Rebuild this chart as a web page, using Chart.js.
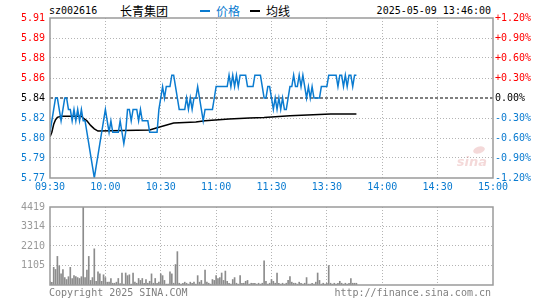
<!DOCTYPE html>
<html>
<head>
<meta charset="utf-8">
<script src="https://cdn.jsdelivr.net/npm/chart.js@4.4.1/dist/chart.umd.min.js"></script>
<style>
body { margin:0; background:#fff; width:545px; height:300px; overflow:hidden; position:relative; font-family:'DejaVu Sans Mono', monospace; }
.t { position:absolute; font-size:10px; line-height:12px; white-space:nowrap; color:#000; }
.cjk { font-family:'Noto Sans CJK SC', sans-serif; font-size:12px; line-height:14px; }
.gray { color:#808080; }
#c1 { position:absolute; left:0; top:0; }
#c2 { position:absolute; left:0; top:196px; }
</style>
</head>
<body>
<div class="t" style="left:49px;top:5px">sz002616</div>
<div class="t cjk" style="left:120px;top:4px">长青集团</div>
<div style="position:absolute;left:200px;top:10px;width:10px;height:2px;background:#0a7bd0"></div>
<div class="t cjk" style="left:216px;top:4px;color:#0a7bd0">价格</div>
<div style="position:absolute;left:250px;top:10px;width:10px;height:2px;background:#000"></div>
<div class="t cjk" style="left:266px;top:4px">均线</div>
<div class="t" style="right:54px;top:5px">2025-05-09 13:46:00</div>

<canvas id="c1" width="545" height="196"></canvas>
<canvas id="c2" width="545" height="104"></canvas>

<div class="t gray" style="left:49px;top:287px">Copyright 2025 SINA.COM</div>
<div class="t gray" style="right:54px;top:287px">http://finance.sina.com.cn</div>

<script>
const prevClose = 5.84;
const timeLabels = ['09:30', '10:00', '10:30', '11:00', '11:30', '13:30', '14:00', '14:30', '15:00'];
const timeTicks = [0, 30, 60, 90, 120, 150, 180, 210, 240];
// bottom to top
const pctSteps = [-1.2, -0.9, -0.6, -0.3, 0, 0.3, 0.6, 0.9, 1.2];
const priceLabels = ['5.77', '5.79', '5.80', '5.82', '5.84', '5.86', '5.88', '5.89', '5.91'];
const pctLabels = ['-1.20%', '-0.90%', '-0.60%', '-0.30%', '0.00%', '+0.30%', '+0.60%', '+0.90%', '+1.20%'];

// one price per minute from 09:30
const prices = [
	5.81, 5.82, 5.83, 5.84, 5.84, 5.83, 5.82, 5.83, 5.84, 5.84,
	5.83, 5.83, 5.82, 5.83, 5.82, 5.83, 5.82, 5.83, 5.82, 5.82,
	5.81, 5.80, 5.79, 5.78, 5.77, 5.78, 5.79, 5.80, 5.81, 5.82,
	5.83, 5.82, 5.81, 5.82, 5.81, 5.81, 5.81, 5.81, 5.82, 5.81,
	5.80, 5.81, 5.83, 5.83, 5.82, 5.83, 5.83, 5.83, 5.82, 5.83,
	5.82, 5.82, 5.82, 5.82, 5.81, 5.81, 5.81, 5.81, 5.81, 5.83,
	5.84, 5.85, 5.84, 5.85, 5.85, 5.85, 5.86, 5.86, 5.85, 5.84,
	5.83, 5.83, 5.83, 5.83, 5.84, 5.83, 5.84, 5.83, 5.84, 5.84,
	5.85, 5.84, 5.83, 5.82, 5.83, 5.83, 5.83, 5.83, 5.83, 5.84,
	5.85, 5.85, 5.85, 5.85, 5.85, 5.85, 5.85, 5.86, 5.85, 5.86,
	5.85, 5.86, 5.85, 5.86, 5.86, 5.86, 5.86, 5.85, 5.85, 5.85,
	5.85, 5.86, 5.86, 5.86, 5.86, 5.85, 5.84, 5.84, 5.85, 5.85,
	5.84, 5.83, 5.84, 5.83, 5.84, 5.83, 5.84, 5.83, 5.83, 5.84,
	5.85, 5.85, 5.86, 5.85, 5.85, 5.86, 5.85, 5.86, 5.85, 5.84,
	5.85, 5.84, 5.85, 5.84, 5.84, 5.84, 5.84, 5.85, 5.85, 5.85,
	5.85, 5.86, 5.86, 5.86, 5.86, 5.86, 5.85, 5.86, 5.86, 5.85,
	5.86, 5.85, 5.86, 5.86, 5.85, 5.86, 5.86
];

// average price line, read at these minutes
const avgMinutes = [0, 1, 2, 3, 4, 6, 17, 18, 20, 22, 24, 26, 54, 58, 67, 79, 84, 97, 108, 116, 130, 152, 166];
const avgPrices = [5.806, 5.810, 5.817, 5.821, 5.823, 5.824, 5.824, 5.8225, 5.820, 5.816, 5.813, 5.811,
	5.812, 5.814, 5.818, 5.819, 5.820, 5.8215, 5.8225, 5.823, 5.8245, 5.826, 5.826];

const volTicks = [1105, 2210, 3314, 4419];
const volLabels = ['1105', '2210', '3314', '4419'];
const volumes = [
	200, 150, 1000, 880, 1620, 1090, 630, 880, 420, 310,
	470, 1000, 370, 530, 470, 420, 370, 470, 4419, 420,
	840, 1620, 260, 420, 2050, 210, 740, 630, 210, 580,
	420, 160, 160, 370, 100, 100, 160, 370, 80, 680,
	50, 680, 530, 580, 50, 680, 160, 100, 370, 260,
	370, 100, 310, 100, 210, 630, 100, 370, 100, 160,
	630, 530, 260, 50, 50, 740, 630, 100, 1160, 1890,
	100, 50, 100, 160, 100, 50, 160, 100, 160, 50,
	530, 160, 260, 50, 840, 160, 100, 50, 310, 260,
	530, 370, 420, 680, 260, 790, 210, 100, 50, 310,
	420, 100, 50, 530, 100, 100, 210, 260, 50, 100,
	100, 100, 50, 100, 50, 100, 1370, 210, 50, 100,
	310, 210, 100, 680, 100, 50, 100, 50, 100, 260,
	470, 160, 100, 100, 50, 160, 100, 50, 100, 420,
	50, 50, 100, 50, 160, 680, 260, 50, 100, 50,
	100, 1100, 100, 50, 100, 50, 100, 210, 100, 50,
	100, 50, 100, 370, 100, 100, 100
];

const BLUE = '#0a7bd0';
const GRID = '#b4b4b4';
const font = { family: 'DejaVu Sans Mono', size: 10 };
const lo = prevClose * (1 + pctSteps[0] / 100);
const hi = prevClose * (1 + pctSteps[pctSteps.length - 1] / 100);

function levelColor(i) {
	if (i < 4) return BLUE;
	if (i > 4) return '#ff0000';
	return '#000';
}

// gray frame round the plot area, plus the faint logo
const framePlugin = {
	id: 'frame',
	beforeDatasetsDraw(chart, args, opts) {
		if (!opts.logo) return;
		const a = chart.chartArea;
		const ctx = chart.ctx;
		ctx.save();
		ctx.fillStyle = 'rgba(214,120,120,0.28)';
		ctx.font = 'italic bold 13px "DejaVu Sans"';
		ctx.textAlign = 'right';
		ctx.fillText('sina', a.right - 6, a.bottom - 12);
		ctx.beginPath();
		ctx.ellipse(a.right - 14, a.bottom - 28, 6, 3.5, -0.3, 0, Math.PI * 2);
		ctx.fill();
		ctx.restore();
	},
	afterDraw(chart) {
		const a = chart.chartArea;
		const ctx = chart.ctx;
		ctx.save();
		ctx.strokeStyle = '#9a9a9a';
		ctx.lineWidth = 1.5;
		ctx.strokeRect(Math.round(a.left), Math.round(a.top), Math.round(a.right - a.left), Math.round(a.bottom - a.top));
		ctx.restore();
	}
};

const xTicks = (s) => { s.ticks = timeTicks.map(v => ({ value: v })); };
const edgeless = (ctx) => (ctx.index === 0 || ctx.index === timeTicks.length - 1) ? 'rgba(0,0,0,0)' : GRID;

new Chart(document.getElementById('c1'), {
	type: 'line',
	data: {
		datasets: [
			{
				data: prices.map((p, i) => ({ x: i, y: p })),
				borderColor: BLUE, borderWidth: 1.5, pointRadius: 0, tension: 0
			},
			{
				data: avgMinutes.map((m, i) => ({ x: m, y: avgPrices[i] })),
				borderColor: '#000', borderWidth: 1.5, pointRadius: 0, tension: 0
			},
			{
				data: [{ x: timeTicks[0], y: prevClose }, { x: timeTicks[timeTicks.length - 1], y: prevClose }],
				borderColor: '#000', borderWidth: 1.2, borderDash: [3, 2], pointRadius: 0
			}
		]
	},
	options: {
		responsive: false,
		animation: false,
		events: [],
		layout: { padding: { top: 18, left: 0, right: 0, bottom: 0 } },
		plugins: { legend: { display: false }, tooltip: { enabled: false }, frame: { logo: true } },
		scales: {
			x: {
				type: 'linear', min: 0, max: 240,
				afterBuildTicks: xTicks,
				afterFit(s) { s.height = 18; },
				ticks: { callback: (v, i) => timeLabels[i], color: BLUE, font: font, padding: 3, maxRotation: 0, autoSkip: false },
				grid: { color: edgeless, drawTicks: false, lineWidth: 1 },
				border: { display: false, dash: [1, 2] }
			},
			y: {
				position: 'left', min: lo, max: hi,
				afterBuildTicks(s) { s.ticks = pctSteps.map(p => ({ value: prevClose * (1 + p / 100) })); },
				afterFit(s) { s.width = 50; },
				ticks: { callback: (v, i) => priceLabels[i], color: (ctx) => levelColor(ctx.index), font: font, padding: 5, autoSkip: false },
				grid: { color: (ctx) => (ctx.index === 0 || ctx.index === 4 || ctx.index === 8) ? 'rgba(0,0,0,0)' : GRID, drawTicks: false, lineWidth: 1 },
				border: { display: false, dash: [1, 2] }
			},
			y2: {
				position: 'right', min: lo, max: hi,
				afterBuildTicks(s) { s.ticks = pctSteps.map(p => ({ value: prevClose * (1 + p / 100) })); },
				afterFit(s) { s.width = 52; },
				ticks: { callback: (v, i) => pctLabels[i], color: (ctx) => levelColor(ctx.index), font: font, padding: 2, autoSkip: false },
				grid: { display: false, drawTicks: false },
				border: { display: false }
			}
		}
	},
	plugins: [framePlugin]
});

new Chart(document.getElementById('c2'), {
	type: 'bar',
	data: {
		datasets: [{
			data: volumes.map((v, i) => ({ x: i, y: v })),
			backgroundColor: '#8c8c8c', barThickness: 1
		}]
	},
	options: {
		responsive: false,
		animation: false,
		events: [],
		layout: { padding: { top: 5, left: 0, right: 52, bottom: 15 } },
		plugins: { legend: { display: false }, tooltip: { enabled: false }, frame: { logo: false } },
		scales: {
			x: {
				type: 'linear', min: 0, max: 240, offset: false,
				afterBuildTicks: xTicks,
				afterFit(s) { s.height = 0; },
				ticks: { display: false },
				grid: { color: edgeless, drawTicks: false, lineWidth: 1, offset: false },
				border: { display: false, dash: [1, 2] }
			},
			y: {
				position: 'left', min: 0, max: volTicks[volTicks.length - 1],
				afterBuildTicks(s) { s.ticks = volTicks.map(v => ({ value: v })); },
				afterFit(s) { s.width = 50; },
				ticks: { callback: (v, i) => volLabels[i], color: '#999', font: font, padding: 5, autoSkip: false },
				grid: { color: (ctx) => ctx.index === volTicks.length - 1 ? 'rgba(0,0,0,0)' : GRID, drawTicks: false, lineWidth: 1 },
				border: { display: false, dash: [1, 2] }
			}
		}
	},
	plugins: [framePlugin]
});
</script>
</body>
</html>
